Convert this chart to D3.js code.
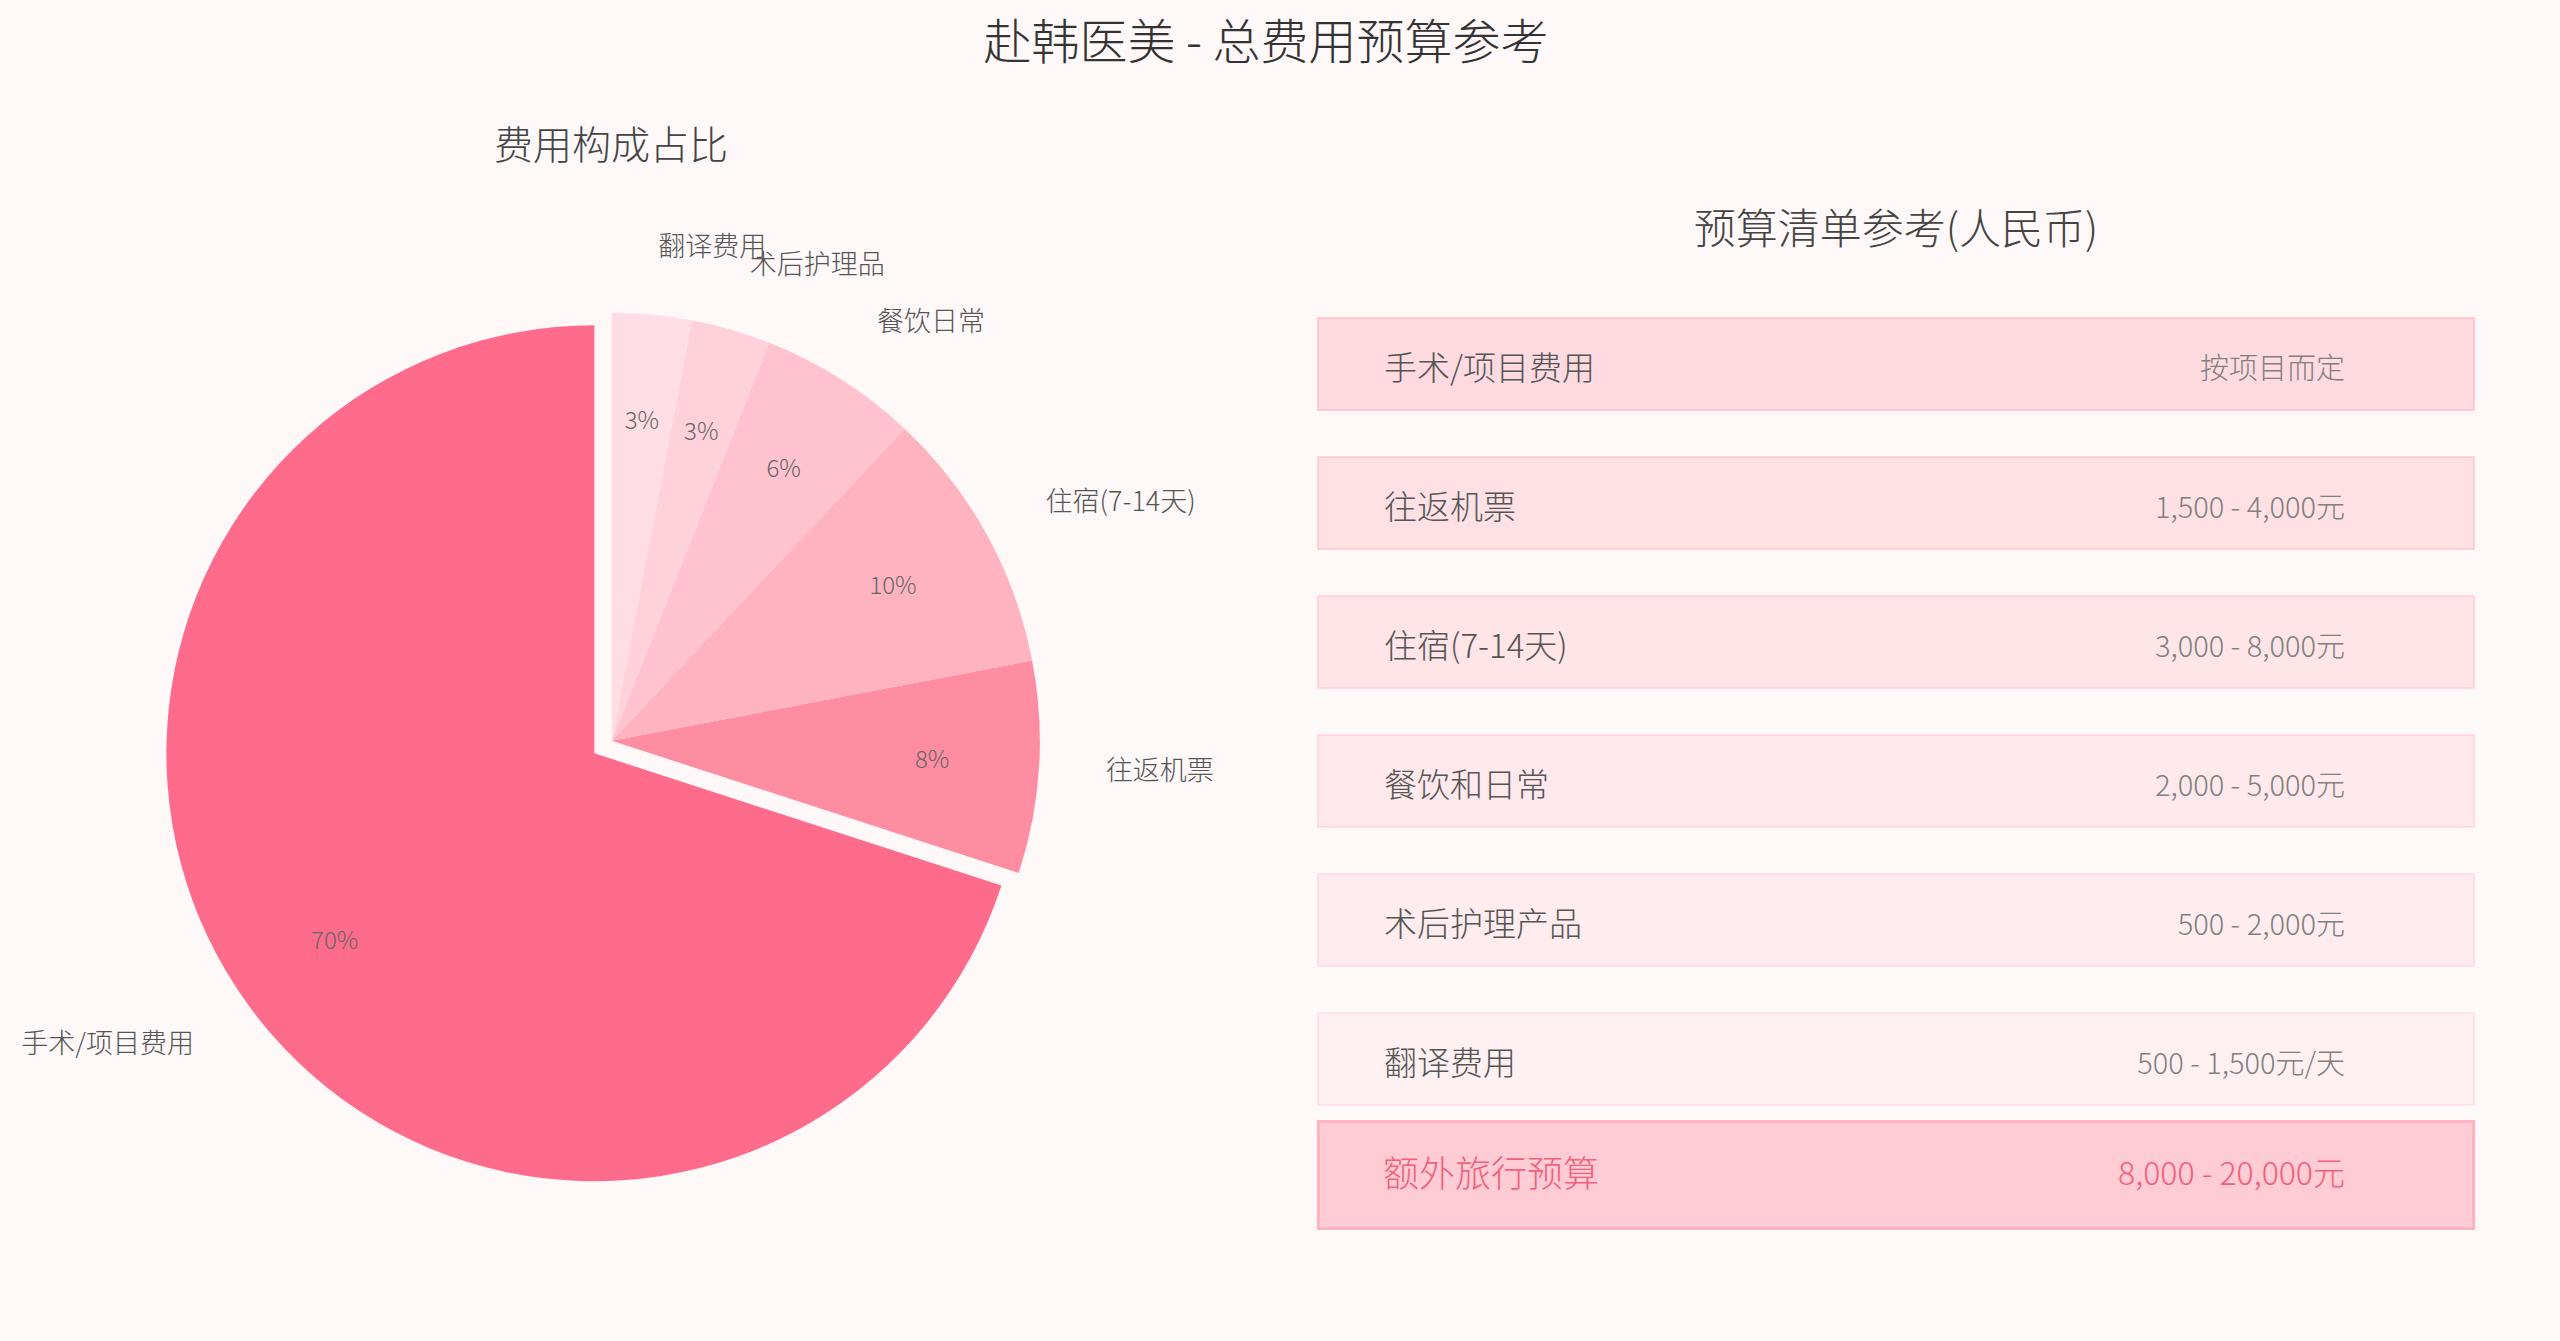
<!DOCTYPE html>
<html>
<head>
<meta charset="utf-8">
<script src="https://cdn.jsdelivr.net/npm/d3@7"></script>
<style>
  html, body { margin: 0; padding: 0; background: #fff8f8; }
  svg { display: block; }
  text { font-family: "Noto Sans CJK SC Light", "Noto Sans CJK SC", "Noto Sans", sans-serif; font-weight: 300; }
</style>
</head>
<body>
<svg id="chart" width="2560" height="1341"></svg>
<script>
// ---- data ----
const pieCategories = ["手术/项目费用", "往返机票", "住宿(7-14天)", "餐饮日常", "术后护理品", "翻译费用"];
const pieShares = [70, 8, 10, 6, 3, 3];
const pieColors = ["#ff6b8b", "#ff8da1", "#ffb3c1", "#ffc2ce", "#ffd1db", "#ffdde4"];
const piePull = [0.05, 0, 0, 0, 0, 0];

const tableItems = ["手术/项目费用", "往返机票", "住宿(7-14天)", "餐饮和日常", "术后护理产品", "翻译费用"];
const tableCosts = ["按项目而定", "1,500 - 4,000元", "3,000 - 8,000元", "2,000 - 5,000元", "500 - 2,000元", "500 - 1,500元/天"];
const rowOpacity = [0.52, 0.42, 0.34, 0.27, 0.2, 0.14];
const totalItem = "额外旅行预算";
const totalCost = "8,000 - 20,000元";

const mainTitle = "赴韩医美 - 总费用预算参考";
const pieTitle = "费用构成占比";
const tableTitle = "预算清单参考(人民币)";

// ---- layout ----
const svg = d3.select("#chart");
svg.append("rect").attr("width", 2560).attr("height", 1341).attr("fill", "#fff8f8");

svg.append("text").attr("x", 1266).attr("y", 38)
  .attr("text-anchor", "middle").attr("dominant-baseline", "central")
  .attr("font-size", 48).attr("fill", "#333").text(mainTitle);

svg.append("text").attr("x", 611).attr("y", 142)
  .attr("text-anchor", "middle").attr("dominant-baseline", "central")
  .attr("font-size", 39).attr("fill", "#444").text(pieTitle);

svg.append("text").attr("x", 1896).attr("y", 225)
  .attr("text-anchor", "middle").attr("dominant-baseline", "central")
  .attr("font-size", 42).attr("fill", "#444").text(tableTitle);

// ---- pie ----
const cx = 611.7, cy = 740.7, R = 428;
const total = d3.sum(pieShares);
const pieData = pieCategories.map((c, i) => ({ cat: c, value: pieShares[i], color: pieColors[i], pull: piePull[i] }));
const pie = d3.pie().value(d => d.value).sort(null).startAngle(0).endAngle(-2 * Math.PI);
const arcs = pie(pieData);
const arc = d3.arc().innerRadius(0).outerRadius(R);
const pctArc = d3.arc().innerRadius(R * 0.75).outerRadius(R * 0.75);
const labelR = 495;

const g = svg.append("g").attr("transform", `translate(${cx},${cy})`);
const slice = g.selectAll("g.slice").data(arcs).enter().append("g")
  .attr("class", "slice")
  .attr("transform", d => {
    const m = (d.startAngle + d.endAngle) / 2;
    const off = d.data.pull * R;
    return `translate(${Math.sin(m) * off},${-Math.cos(m) * off})`;
  });

slice.append("path").attr("d", arc).attr("fill", d => d.data.color);

slice.append("text")
  .attr("transform", d => `translate(${pctArc.centroid(d)})`)
  .attr("dy", -3)
  .attr("text-anchor", "middle").attr("dominant-baseline", "central")
  .attr("font-size", 24).attr("fill", "#666")
  .text(d => Math.round(d.data.value / total * 100) + "%");

slice.append("text")
  .attr("x", d => Math.sin((d.startAngle + d.endAngle) / 2) * labelR)
  .attr("y", d => -Math.cos((d.startAngle + d.endAngle) / 2) * labelR - 3)
  .attr("text-anchor", d => Math.sin((d.startAngle + d.endAngle) / 2) >= 0 ? "start" : "end")
  .attr("dominant-baseline", "central")
  .attr("font-size", 27).attr("fill", "#555")
  .text(d => d.data.cat);

// ---- table ----
const boxX = 1317, boxW = 1158, boxH = 94;
const rowY = d3.scaleLinear().domain([0, tableItems.length - 1]).range([317, 1012]);
const rows = svg.selectAll("g.row").data(tableItems.map((t, i) => ({ item: t, cost: tableCosts[i], op: rowOpacity[i], i })))
  .enter().append("g").attr("class", "row")
  .attr("transform", d => `translate(${boxX},${rowY(d.i)})`);

rows.append("rect").attr("x", 1).attr("y", 1).attr("width", boxW - 2).attr("height", boxH - 2)
  .attr("fill", "#ffc0cb").attr("fill-opacity", d => d.op)
  .attr("stroke", "#ffb6c1").attr("stroke-opacity", d => Math.min(1, d.op + 0.12)).attr("stroke-width", 2);

rows.append("text").attr("x", 67).attr("y", boxH / 2 + 2)
  .attr("dominant-baseline", "central").attr("font-size", 33).attr("fill", "#555")
  .text(d => d.item);

rows.append("text").attr("x", 1028).attr("y", boxH / 2 + 2)
  .attr("text-anchor", "end").attr("dominant-baseline", "central").attr("font-size", 29).attr("fill", "#808080")
  .text(d => d.cost);

const tot = svg.append("g").attr("transform", `translate(${boxX},1120)`);
tot.append("rect").attr("x", 1.5).attr("y", 1.5).attr("width", boxW - 3).attr("height", 107)
  .attr("fill", "#ffccd6").attr("stroke", "#ffb3c2").attr("stroke-width", 3);
tot.append("text").attr("x", 66).attr("y", 51)
  .attr("dominant-baseline", "central").attr("font-size", 36).attr("fill", "#f2607a")
  .text(totalItem);
tot.append("text").attr("x", 1028).attr("y", 51)
  .attr("text-anchor", "end").attr("dominant-baseline", "central").attr("font-size", 32).attr("fill", "#f2607a")
  .text(totalCost);
</script>
</body>
</html>
